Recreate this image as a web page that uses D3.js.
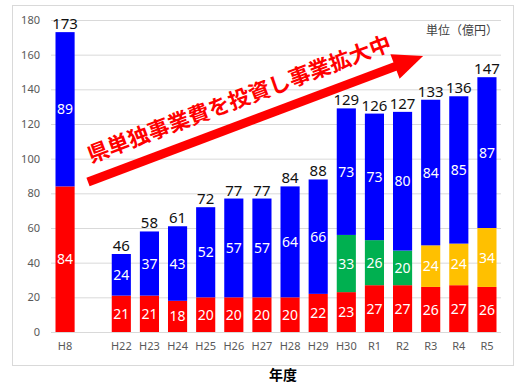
<!DOCTYPE html>
<html>
<head>
<meta charset="utf-8">
<script src="https://cdn.jsdelivr.net/npm/d3@7"></script>
<style>
  body { margin: 0; background: #fff; }
  svg { display: block; font-family: "Noto Sans", "Noto Sans CJK JP", sans-serif; }
</style>
</head>
<body>
<svg id="chart" width="514" height="383"></svg>
<script>
// data (億円)
let years = ["H8","H22","H23","H24","H25","H26","H27","H28","H29","H30","R1","R2","R3","R4","R5"];
let redVals    = [84,21,21,18,20,20,20,20,22,23,27,27,26,27,26];
let greenVals  = [0,0,0,0,0,0,0,0,0,33,26,20,0,0,0];
let yellowVals = [0,0,0,0,0,0,0,0,0,0,0,0,24,24,34];
let blueVals   = [89,24,37,43,52,57,57,64,66,73,73,80,84,85,87];
let totals     = [173,46,58,61,72,77,77,84,88,129,126,127,133,136,147];
let yTicks = [0,20,40,60,80,100,120,140,160,180];

let colors = { red: "#ff0000", green: "#00b050", yellow: "#ffc000", blue: "#0000ff" };
let keys = ["red","green","yellow","blue"];

let rows = years.map((y,i) => ({ year: y, red: redVals[i], green: greenVals[i], yellow: yellowVals[i], blue: blueVals[i], total: totals[i] }));

let svg = d3.select("#chart");

// frame
svg.append("rect")
   .attr("x", 12.5).attr("y", 5.5)
   .attr("width", 501).attr("height", 360)
   .attr("fill", "#fff").attr("stroke", "#d9d9d9");

// "top" is taken by window.top, so plot* names
let plotLeft = 51, plotRight = 501, plotTop = 20, plotBottom = 332;

// gap slot between H8 and H22
let domain = [years[0], "gap"].concat(years.slice(1));
let x = d3.scaleBand().domain(domain).range([plotLeft, plotRight]).paddingInner(0.32).paddingOuter(0.16);
let y = d3.scaleLinear().domain([0,180]).range([plotBottom, plotTop]);

// gridlines
svg.append("g")
   .attr("transform", "translate(" + plotLeft + ",0)")
   .call(d3.axisLeft(y).tickValues(yTicks).tickSize(-(plotRight - plotLeft)).tickFormat(""))
   .call(g => g.select(".domain").remove())
   .call(g => g.selectAll("line").attr("stroke", "#d9d9d9"));

// y labels
svg.append("g")
   .attr("transform", "translate(40,0)")
   .call(d3.axisLeft(y).tickValues(yTicks).tickSize(0).tickPadding(0))
   .call(g => g.select(".domain").remove())
   .call(g => g.selectAll("text").attr("fill", "#595959").style("font-size", "11px").style("font-family", "Noto Sans"));

// x labels
svg.append("g")
   .attr("transform", "translate(0," + plotBottom + ")")
   .call(d3.axisBottom(x).tickSize(0).tickPadding(10).tickFormat(d => d == "gap" ? "" : d))
   .call(g => g.select(".domain").remove())
   .call(g => g.selectAll("text").attr("fill", "#595959").style("font-size", "11px").style("font-family", "Noto Sans"));

// stacked bars
let series = d3.stack().keys(keys)(rows);

let layer = svg.selectAll(".layer")
   .data(series)
   .enter()
   .append("g")
   .attr("class", "layer")
   .attr("fill", d => colors[d.key]);

layer.selectAll("rect")
   .data(d => d.filter(s => s[1] - s[0] > 0))
   .enter()
   .append("rect")
   .attr("x", d => x(d.data.year))
   .attr("y", d => y(d[1]))
   .attr("width", x.bandwidth())
   .attr("height", d => y(d[0]) - y(d[1]));

// segment labels
layer.selectAll("text")
   .data(d => d.filter(s => s[1] - s[0] > 0))
   .enter()
   .append("text")
   .attr("x", d => x(d.data.year) + x.bandwidth() / 2)
   .attr("y", d => (y(d[0]) + y(d[1])) / 2)
   .attr("dy", "0.36em")
   .attr("text-anchor", "middle")
   .attr("fill", "#fff")
   .style("font-size", "14px")
   .text(d => d[1] - d[0]);

// totals on top
svg.selectAll(".total")
   .data(rows)
   .enter()
   .append("text")
   .attr("class", "total")
   .attr("x", d => x(d.year) + x.bandwidth() / 2)
   .attr("y", d => y(d.red + d.green + d.yellow + d.blue) - 3)
   .attr("text-anchor", "middle")
   .attr("fill", "#111")
   .style("font-size", "15px")
   .text(d => d.total);

// unit
svg.append("text")
   .attr("x", 498).attr("y", 35)
   .attr("text-anchor", "end")
   .attr("fill", "#404040")
   .style("font-size", "12px")
   .style("font-family", "Noto Sans CJK JP")
   .text("単位（億円）");

// x title
svg.append("text")
   .attr("x", 283).attr("y", 380)
   .attr("text-anchor", "middle")
   .attr("fill", "#000")
   .style("font-size", "14px")
   .style("font-weight", "bold")
   .style("font-family", "Noto Sans CJK JP")
   .text("年度");

// arrow annotation
let ang = Math.atan2(56 - 182, 423 - 88) * 180 / Math.PI;
let arrow = svg.append("g").attr("transform", "translate(88,182) rotate(" + ang + ")");
arrow.append("rect")
   .attr("x", 0).attr("y", -4.5)
   .attr("width", 332).attr("height", 9)
   .attr("fill", "#ff0000");
arrow.append("path")
   .attr("d", "M328,-13 L358,0 L328,13 Z")
   .attr("fill", "#ff0000");

svg.append("text")
   .attr("transform", "translate(91,163) rotate(" + ang + ")")
   .attr("fill", "#ff0000")
   .style("font-size", "21.5px")
   .style("font-weight", "bold")
   .style("font-family", "Noto Sans CJK JP")
   .text("県単独事業費を投資し事業拡大中");
</script>
</body>
</html>
